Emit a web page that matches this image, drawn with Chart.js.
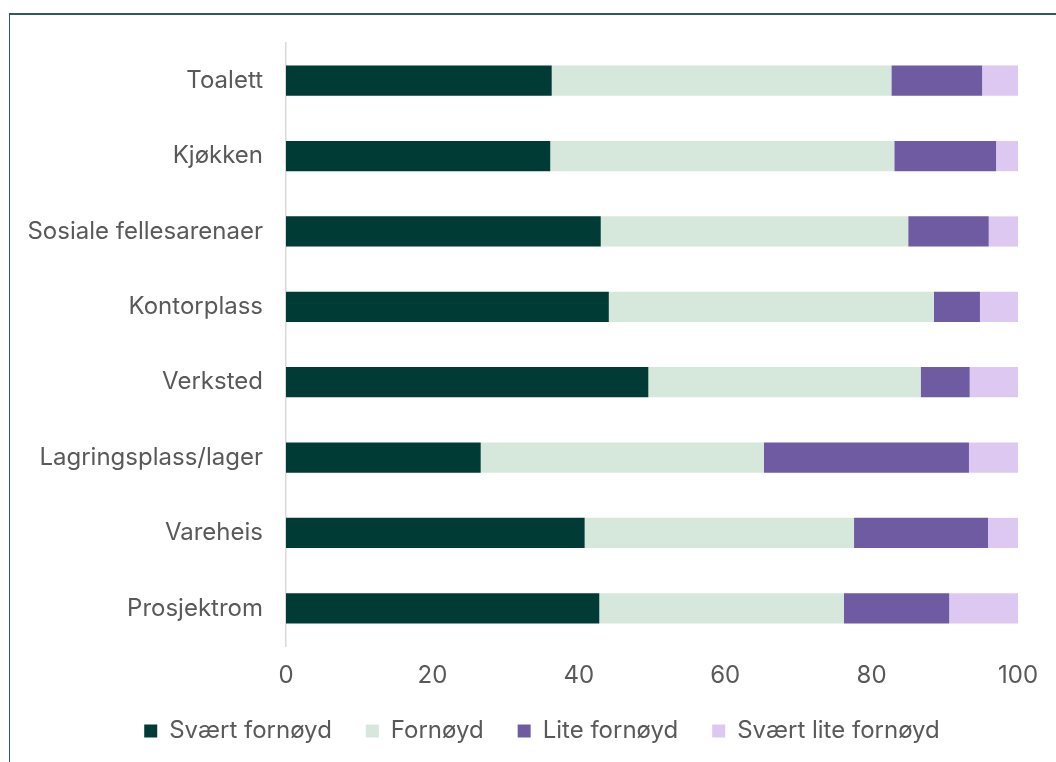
<!DOCTYPE html>
<html lang="no">
<head>
    <meta charset="UTF-8">
    <title>Fornøydhet med arealer</title>
    <script src="https://cdn.jsdelivr.net/npm/chart.js"></script>
    <style>
        html, body {
            margin: 0;
            padding: 0;
            background: #fff;
            overflow: hidden;
        }
        .frame {
            position: absolute;
            left: 9px;
            top: 13px;
            width: 1200px;
            height: 900px;
            border-left: 1px solid #2f5b59;
            border-top: 2px solid #2f5b59;
        }
        #wrap {
            position: absolute;
            left: 0;
            top: 0;
            width: 1056px;
            height: 762px;
        }
    </style>
</head>
<body>
<div class="frame"></div>
<div id="wrap"><canvas id="areaChart"></canvas></div>

<script>
    // categories (top to bottom)
    const categories = ["Toalett", "Kjøkken", "Sosiale fellesarenaer", "Kontorplass",
        "Verksted", "Lagringsplass/lager", "Vareheis", "Prosjektrom"];

    // percent per answer
    const sværtFornøyd     = [36.3, 36.1, 43.0, 44.1, 49.5, 26.6, 40.8, 42.8];
    const fornøyd          = [46.4, 47.0, 42.0, 44.4, 37.2, 38.7, 36.8, 33.4];
    const liteFornøyd      = [12.4, 13.9, 11.0,  6.3,  6.7, 28.0, 18.3, 14.4];
    const sværtLiteFornøyd = [ 4.9,  3.0,  4.0,  5.2,  6.6,  6.7,  4.1,  9.4];

    const xTicks = [0, 20, 40, 60, 80, 100];

    const textColor = '#595959';
    Chart.defaults.font.family = "Inter, 'Noto Sans', sans-serif";
    Chart.defaults.font.size = 24;
    Chart.defaults.color = textColor;

    function series(label, data, color) {
        return {
            label: label,
            data: data,
            backgroundColor: color,
            borderWidth: 0,
            barPercentage: 0.4,
            categoryPercentage: 1.0
        };
    }

    new Chart(document.getElementById('areaChart'), {
        type: 'bar',
        data: {
            labels: categories,
            datasets: [
                series('Svært fornøyd', sværtFornøyd, '#003b36'),
                series('Fornøyd', fornøyd, '#d6e8dc'),
                series('Lite fornøyd', liteFornøyd, '#6e5ba2'),
                series('Svært lite fornøyd', sværtLiteFornøyd, '#dcc8f0')
            ]
        },
        options: {
            indexAxis: 'y',
            responsive: true,
            maintainAspectRatio: false,
            animation: false,
            layout: {
                padding: { top: 43, right: 38, bottom: 9, left: 66 }
            },
            scales: {
                x: {
                    stacked: true,
                    min: 0,
                    max: 100,
                    afterBuildTicks: function(scale) {
                        scale.ticks = xTicks.map(v => ({ value: v }));
                    },
                    afterFit: function(scale) { scale.height = 39; },
                    grid: { display: false, drawTicks: false },
                    border: { display: false },
                    ticks: { padding: 15, color: textColor }
                },
                y: {
                    stacked: true,
                    afterFit: function(scale) {
                        scale.width = 220;
                        // long labels reach left of the axis box, don't clip them
                        scale._computeLabelArea = function() { return undefined; };
                    },
                    grid: { display: false, drawTicks: false },
                    border: { display: true, color: '#d9d9d9', width: 1.5 },
                    ticks: { padding: 23, color: textColor }
                }
            },
            plugins: {
                legend: {
                    position: 'bottom',
                    labels: {
                        boxWidth: 13,
                        boxHeight: 13,
                        padding: 34,
                        color: textColor
                    }
                },
                tooltip: { enabled: false }
            }
        }
    });
</script>
</body>
</html>
